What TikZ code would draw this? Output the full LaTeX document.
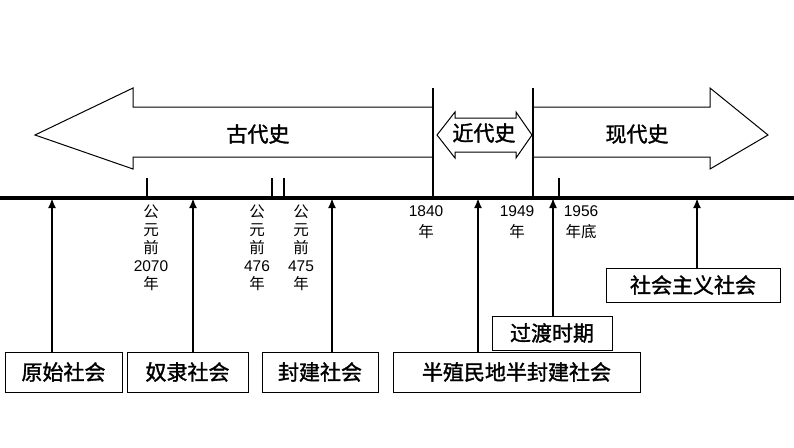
\documentclass[tikz,border=0pt]{standalone}
\usepackage{fontspec}
\setmainfont{Liberation Sans}
\newfontfamily\cjk{Noto Sans CJK SC}
\newfontfamily\cjkb[FakeBold=1.5]{Noto Sans CJK SC}
\usetikzlibrary{arrows.meta}

\tikzset{
  era/.style={draw=black,line width=1pt,fill=white},
  eralabel/.style={font=\cjkb\fontsize{21}{23}\selectfont},
  stagebox/.style={draw=black,line width=1pt,inner sep=3pt,font=\cjkb\fontsize{21}{23}\selectfont},
  yearlabel/.style={font=\fontsize{15.5}{17}\selectfont,align=center,inner sep=0pt},
  uparrow/.style={-{Latex[length=10pt,width=8pt]},line width=2.6pt}
}

\begin{document}
\begin{tikzpicture}[line cap=butt,line join=miter,x=1pt,y=-1pt]
  \useasboundingbox (0,0) rectangle (794,447);
  % big era arrows
  \draw[era] (433,107) -- (133,107) -- (133,88) -- (35,135) -- (133,169) -- (133,157) -- (433,157);
  \draw[era] (533,107) -- (710,107) -- (710,88) -- (768,135) -- (710,169) -- (710,157) -- (533,157);
  \draw[era] (455,118) -- (516,118) -- (516,112) -- (532,135) -- (516,158) -- (516,152)
    -- (455,152) -- (455,158) -- (437,135) -- (455,112) -- cycle;
  \node[eralabel] (ancient) at (258,134) {古代史};
  \node[eralabel] (modern) at (484,133) {近代史};
  \node[eralabel] (contemp) at (637,134) {现代史};
  % timeline
  \coordinate (tl) at (0,198);
  \coordinate (tr) at (794,198);
  \draw[line width=3.2pt] (tl) -- (tr);
  \draw[line width=2.6pt] (433,88) -- (433,198);
  \draw[line width=2.6pt] (533,88) -- (533,198);
  \foreach \x in {147,272,284,559}
    \draw[line width=2pt] (\x,178) -- (\x,198);
  % year labels
  \node[yearlabel,anchor=north] (y2070) at (151,205) {{\cjk 公}\\[1pt]{\cjk 元}\\[1pt]{\cjk 前}\\[1pt]2070\\[1pt]{\cjk 年}};
  \node[yearlabel,anchor=north] (y476) at (257,205) {{\cjk 公}\\[1pt]{\cjk 元}\\[1pt]{\cjk 前}\\[1pt]476\\[1pt]{\cjk 年}};
  \node[yearlabel,anchor=north] (y475) at (301,205) {{\cjk 公}\\[1pt]{\cjk 元}\\[1pt]{\cjk 前}\\[1pt]475\\[1pt]{\cjk 年}};
  \node[yearlabel,anchor=north] (y1840) at (426,205) {1840\\[4pt]{\cjk 年}};
  \node[yearlabel,anchor=north] (y1949) at (517,205) {1949\\[4pt]{\cjk 年}};
  \node[yearlabel,anchor=north] (y1956) at (581,205) {1956\\[4pt]{\cjk 年底}};
  % stage boxes
  \node[stagebox,minimum width=117pt,minimum height=40pt] (primitive) at (63.5,372) {原始社会};
  \node[stagebox,minimum width=121pt,minimum height=40pt] (slave) at (187.5,372) {奴隶社会};
  \node[stagebox,minimum width=116pt,minimum height=40pt] (feudal) at (320,372) {封建社会};
  \node[stagebox,minimum width=247pt,minimum height=40pt] (semi) at (516.5,372) {半殖民地半封建社会};
  \node[stagebox,minimum width=120pt,minimum height=34pt] (transit) at (552,333) {过渡时期};
  \node[stagebox,minimum width=174pt,minimum height=34pt] (social) at (693,285) {社会主义社会};
  % arrows to the timeline
  \coordinate (a1) at (52,198);
  \coordinate (a2) at (193,198);
  \coordinate (a3) at (332,198);
  \coordinate (a4) at (478,198);
  \coordinate (a5) at (553,198);
  \coordinate (a6) at (697,198);
  \draw[uparrow] (primitive.north -| a1) -- (a1);
  \draw[uparrow] (slave.north -| a2) -- (a2);
  \draw[uparrow] (feudal.north -| a3) -- (a3);
  \draw[uparrow] (semi.north -| a4) -- (a4);
  \draw[uparrow,line width=1.6pt] (transit.north -| a5) -- (a5);
  \draw[uparrow] (social.north -| a6) -- (a6);
\end{tikzpicture}
\end{document}
